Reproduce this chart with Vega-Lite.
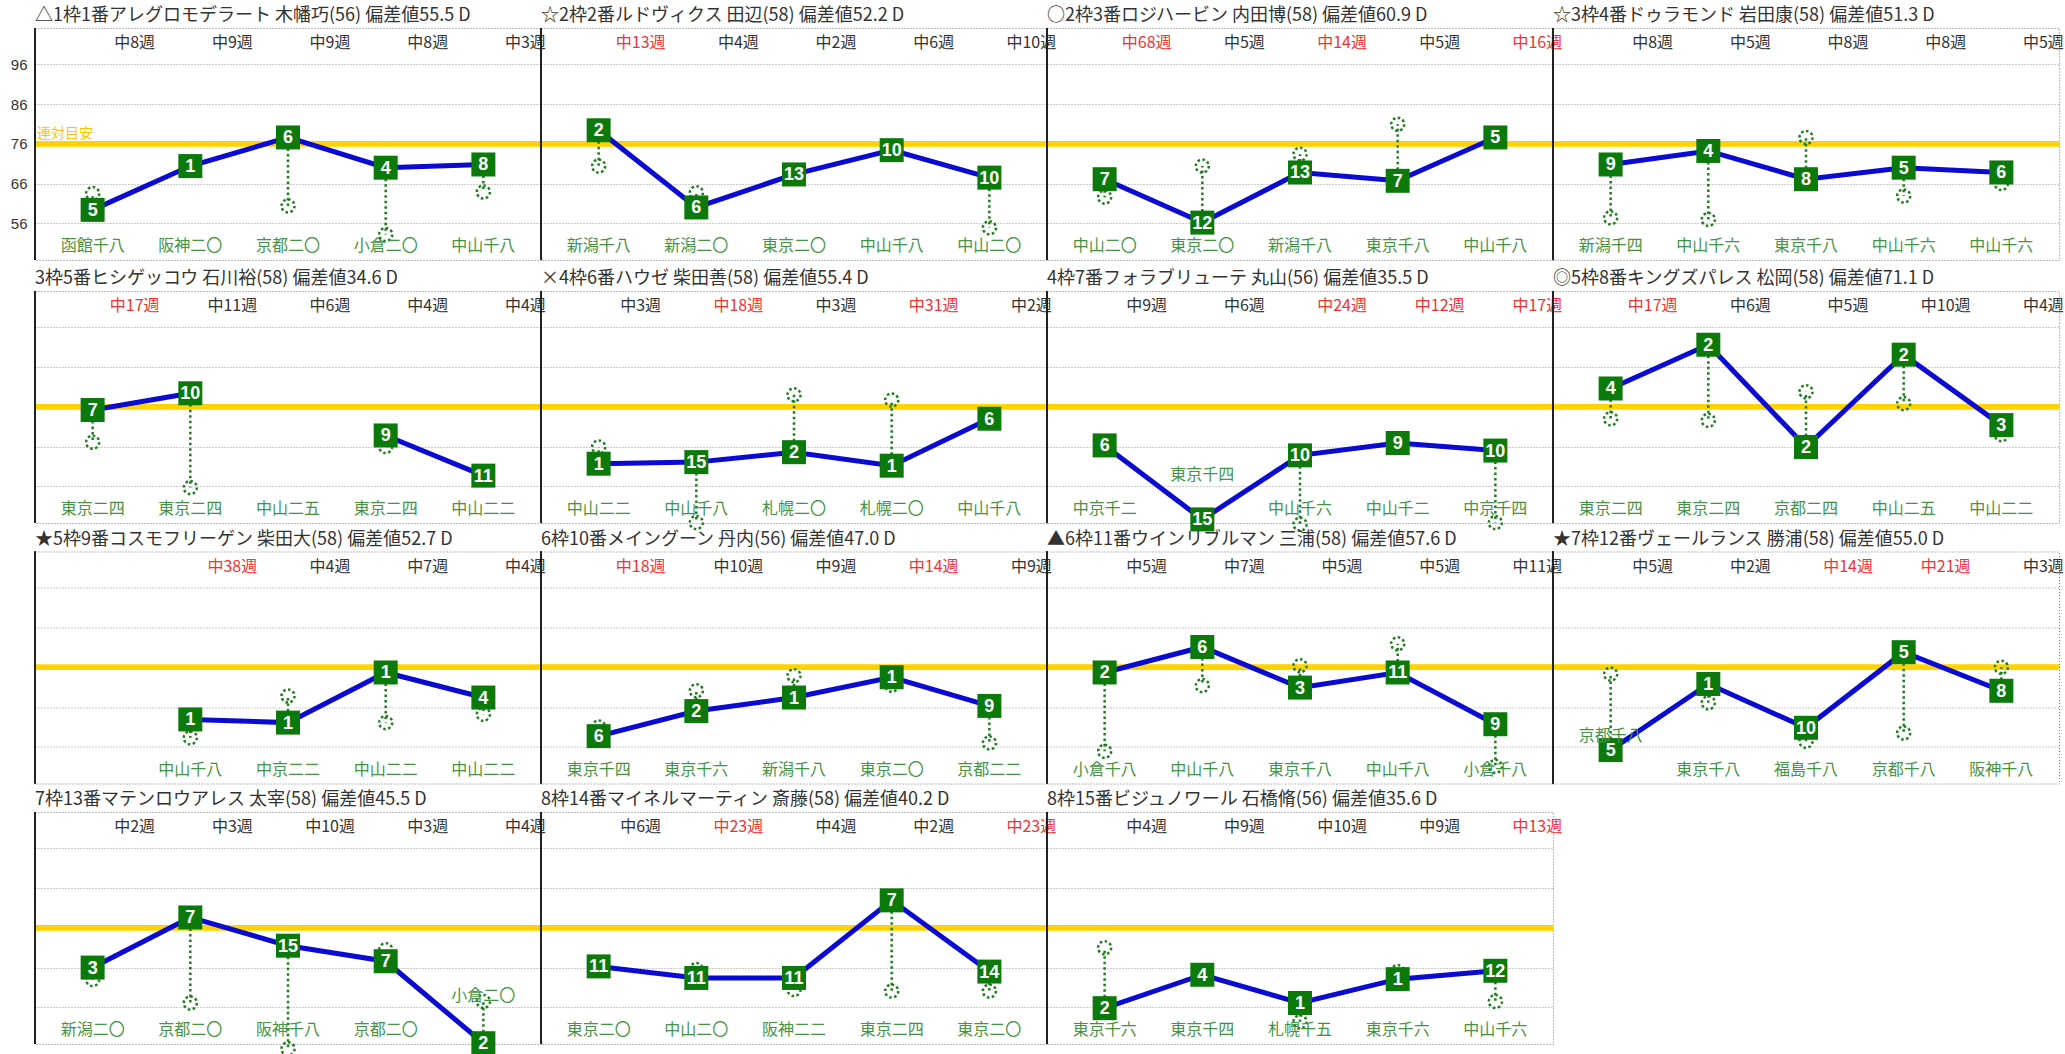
{
  "$schema": "https://vega.github.io/schema/vega-lite/v6.json",
  "background": "white",
  "padding": {"top": 6, "left": 0, "right": 0, "bottom": 0},
  "config": {
    "font": "Noto Sans CJK JP",
    "view": {"stroke": "#777777", "strokeDash": [1, 2], "strokeWidth": 1},
    "header": {"labelFontSize": 18, "labelAnchor": "start", "labelColor": "#333333", "labelPadding": 2, "labelFont": "Noto Sans CJK JP", "labelLimit": 0}
  },
  "datasets": {
    "titles": [
      {"p": 1, "t": "△1枠1番アレグロモデラート 木幡巧(56) 偏差値55.5 D"},
      {"p": 2, "t": "☆2枠2番ルドヴィクス 田辺(58) 偏差値52.2 D"},
      {"p": 3, "t": "○2枠3番ロジハービン 内田博(58) 偏差値60.9 D"},
      {"p": 4, "t": "☆3枠4番ドゥラモンド 岩田康(58) 偏差値51.3 D"},
      {"p": 5, "t": "3枠5番ヒシゲッコウ 石川裕(58) 偏差値34.6 D"},
      {"p": 6, "t": "×4枠6番ハウゼ 柴田善(58) 偏差値55.4 D"},
      {"p": 7, "t": "4枠7番フォラブリューテ 丸山(56) 偏差値35.5 D"},
      {"p": 8, "t": "◎5枠8番キングズパレス 松岡(58) 偏差値71.1 D"},
      {"p": 9, "t": "★5枠9番コスモフリーゲン 柴田大(58) 偏差値52.7 D"},
      {"p": 10, "t": "6枠10番メイングーン 丹内(56) 偏差値47.0 D"},
      {"p": 11, "t": "▲6枠11番ウインリブルマン 三浦(58) 偏差値57.6 D"},
      {"p": 12, "t": "★7枠12番ヴェールランス 勝浦(58) 偏差値55.0 D"},
      {"p": 13, "t": "7枠13番マテンロウアレス 太宰(58) 偏差値45.5 D"},
      {"p": 14, "t": "8枠14番マイネルマーティン 斎藤(58) 偏差値40.2 D"},
      {"p": 15, "t": "8枠15番ビジュノワール 石橋脩(56) 偏差値35.6 D"}
    ],
    "races": [
      {"p": 1, "r": 1, "venue": "函館千八", "n": 5, "v": 59.4, "c": 63.5, "wk": "中8週"},
      {"p": 1, "r": 2, "venue": "阪神二〇", "n": 1, "v": 70.4, "c": 70.4, "wk": "中9週"},
      {"p": 1, "r": 3, "venue": "京都二〇", "n": 6, "v": 77.6, "c": 60.4, "wk": "中9週"},
      {"p": 1, "r": 4, "venue": "小倉二〇", "n": 4, "v": 70.0, "c": 53.2, "wk": "中8週"},
      {"p": 1, "r": 5, "venue": "中山千八", "n": 8, "v": 70.8, "c": 63.9, "wk": "中3週"},
      {"p": 2, "r": 1, "venue": "新潟千八", "n": 2, "v": 79.4, "c": 70.4, "wk": "中13週"},
      {"p": 2, "r": 2, "venue": "新潟二〇", "n": 6, "v": 60.0, "c": 63.7, "wk": "中4週"},
      {"p": 2, "r": 3, "venue": "東京二〇", "n": 13, "v": 68.3, "c": 68.3, "wk": "中2週"},
      {"p": 2, "r": 4, "venue": "中山千八", "n": 10, "v": 74.4, "c": 74.4, "wk": "中6週"},
      {"p": 2, "r": 5, "venue": "中山二〇", "n": 10, "v": 67.5, "c": 54.9, "wk": "中10週"},
      {"p": 3, "r": 1, "venue": "中山二〇", "n": 7, "v": 67.1, "c": 62.6, "wk": "中68週"},
      {"p": 3, "r": 2, "venue": "東京二〇", "n": 12, "v": 56.2, "c": 70.4, "wk": "中5週"},
      {"p": 3, "r": 3, "venue": "新潟千八", "n": 13, "v": 68.8, "c": 73.4, "wk": "中14週"},
      {"p": 3, "r": 4, "venue": "東京千八", "n": 7, "v": 66.7, "c": 80.9, "wk": "中5週"},
      {"p": 3, "r": 5, "venue": "中山千八", "n": 5, "v": 77.6, "c": 77.6, "wk": "中16週"},
      {"p": 4, "r": 1, "venue": "新潟千四", "n": 9, "v": 70.8, "c": 57.4, "wk": "中8週"},
      {"p": 4, "r": 2, "venue": "中山千六", "n": 4, "v": 74.2, "c": 57.0, "wk": "中5週"},
      {"p": 4, "r": 3, "venue": "東京千八", "n": 8, "v": 67.1, "c": 77.6, "wk": "中8週"},
      {"p": 4, "r": 4, "venue": "中山千六", "n": 5, "v": 70.0, "c": 62.9, "wk": "中8週"},
      {"p": 4, "r": 5, "venue": "中山千六", "n": 6, "v": 68.8, "c": 66.0, "wk": "中5週"},
      {"p": 5, "r": 1, "venue": "東京二四", "n": 7, "v": 75.2, "c": 67.1, "wk": "中17週"},
      {"p": 5, "r": 2, "venue": "東京二四", "n": 10, "v": 79.4, "c": 55.7, "wk": "中11週"},
      {"p": 5, "r": 3, "venue": "中山二五", "n": null, "v": null, "c": null, "wk": "中6週"},
      {"p": 5, "r": 4, "venue": "東京二四", "n": 9, "v": 68.8, "c": 66.0, "wk": "中4週"},
      {"p": 5, "r": 5, "venue": "中山二二", "n": 11, "v": 58.7, "c": 58.7, "wk": "中4週"},
      {"p": 6, "r": 1, "venue": "中山二二", "n": 1, "v": 61.7, "c": 65.9, "wk": "中3週"},
      {"p": 6, "r": 2, "venue": "中山千八", "n": 15, "v": 62.1, "c": 46.9, "wk": "中18週"},
      {"p": 6, "r": 3, "venue": "札幌二〇", "n": 2, "v": 64.6, "c": 79.0, "wk": "中3週"},
      {"p": 6, "r": 4, "venue": "札幌二〇", "n": 1, "v": 61.2, "c": 77.7, "wk": "中31週"},
      {"p": 6, "r": 5, "venue": "中山千八", "n": 6, "v": 73.0, "c": 73.0, "wk": "中2週"},
      {"p": 7, "r": 1, "venue": "中京千二", "n": 6, "v": 66.3, "c": 66.3, "wk": "中9週"},
      {"p": 7, "r": 2, "venue": "東京千四", "n": 15, "v": 47.7, "c": 47.7, "wk": "中6週"},
      {"p": 7, "r": 3, "venue": "中山千六", "n": 10, "v": 63.8, "c": 46.5, "wk": "中24週"},
      {"p": 7, "r": 4, "venue": "中山千二", "n": 9, "v": 66.9, "c": 66.9, "wk": "中12週"},
      {"p": 7, "r": 5, "venue": "中京千四", "n": 10, "v": 65.0, "c": 46.9, "wk": "中17週"},
      {"p": 8, "r": 1, "venue": "東京二四", "n": 4, "v": 80.6, "c": 73.0, "wk": "中17週"},
      {"p": 8, "r": 2, "venue": "東京二四", "n": 2, "v": 91.6, "c": 72.6, "wk": "中6週"},
      {"p": 8, "r": 3, "venue": "京都二四", "n": 2, "v": 65.9, "c": 79.8, "wk": "中5週"},
      {"p": 8, "r": 4, "venue": "中山二五", "n": 2, "v": 89.1, "c": 76.8, "wk": "中10週"},
      {"p": 8, "r": 5, "venue": "中山二二", "n": 3, "v": 71.4, "c": 69.0, "wk": "中4週"},
      {"p": 9, "r": 2, "venue": "中山千八", "n": 1, "v": 62.9, "c": 58.3, "wk": "中38週"},
      {"p": 9, "r": 3, "venue": "中京二二", "n": 1, "v": 62.1, "c": 68.8, "wk": "中4週"},
      {"p": 9, "r": 4, "venue": "中山二二", "n": 1, "v": 74.7, "c": 62.1, "wk": "中7週"},
      {"p": 9, "r": 5, "venue": "中山二二", "n": 4, "v": 68.4, "c": 64.2, "wk": "中4週"},
      {"p": 10, "r": 1, "venue": "東京千四", "n": 6, "v": 58.7, "c": 61.0, "wk": "中18週"},
      {"p": 10, "r": 2, "venue": "東京千六", "n": 2, "v": 65.0, "c": 70.1, "wk": "中10週"},
      {"p": 10, "r": 3, "venue": "新潟千八", "n": 1, "v": 68.4, "c": 73.9, "wk": "中9週"},
      {"p": 10, "r": 4, "venue": "東京二〇", "n": 1, "v": 73.5, "c": 71.5, "wk": "中14週"},
      {"p": 10, "r": 5, "venue": "京都二二", "n": 9, "v": 66.3, "c": 57.0, "wk": "中9週"},
      {"p": 11, "r": 1, "venue": "小倉千八", "n": 2, "v": 74.7, "c": 54.9, "wk": "中5週"},
      {"p": 11, "r": 2, "venue": "中山千八", "n": 6, "v": 81.1, "c": 71.4, "wk": "中7週"},
      {"p": 11, "r": 3, "venue": "東京千八", "n": 3, "v": 70.9, "c": 76.4, "wk": "中5週"},
      {"p": 11, "r": 4, "venue": "中山千八", "n": 11, "v": 74.7, "c": 81.9, "wk": "中5週"},
      {"p": 11, "r": 5, "venue": "小倉千八", "n": 9, "v": 61.7, "c": 51.1, "wk": "中11週"},
      {"p": 12, "r": 1, "venue": "京都千八", "n": 5, "v": 55.2, "c": 74.3, "wk": "中5週"},
      {"p": 12, "r": 2, "venue": "東京千八", "n": 1, "v": 71.8, "c": 67.1, "wk": "中2週"},
      {"p": 12, "r": 3, "venue": "福島千八", "n": 10, "v": 60.8, "c": 57.4, "wk": "中14週"},
      {"p": 12, "r": 4, "venue": "京都千八", "n": 5, "v": 79.8, "c": 59.5, "wk": "中21週"},
      {"p": 12, "r": 5, "venue": "阪神千八", "n": 8, "v": 70.1, "c": 76.0, "wk": "中3週"},
      {"p": 13, "r": 1, "venue": "新潟二〇", "n": 3, "v": 66.0, "c": 63.0, "wk": "中2週"},
      {"p": 13, "r": 2, "venue": "京都二〇", "n": 7, "v": 78.6, "c": 57.1, "wk": "中3週"},
      {"p": 13, "r": 3, "venue": "阪神千八", "n": 15, "v": 71.5, "c": 45.6, "wk": "中10週"},
      {"p": 13, "r": 4, "venue": "京都二〇", "n": 7, "v": 67.6, "c": 70.5, "wk": "中3週"},
      {"p": 13, "r": 5, "venue": "小倉二〇", "n": 2, "v": 47.0, "c": 57.5, "wk": "中4週"},
      {"p": 14, "r": 1, "venue": "東京二〇", "n": 11, "v": 66.3, "c": 66.3, "wk": "中6週"},
      {"p": 14, "r": 2, "venue": "中山二〇", "n": 11, "v": 63.4, "c": 65.5, "wk": "中23週"},
      {"p": 14, "r": 3, "venue": "阪神二二", "n": 11, "v": 63.4, "c": 60.5, "wk": "中4週"},
      {"p": 14, "r": 4, "venue": "東京二四", "n": 7, "v": 82.9, "c": 60.1, "wk": "中2週"},
      {"p": 14, "r": 5, "venue": "東京二〇", "n": 14, "v": 65.0, "c": 60.1, "wk": "中23週"},
      {"p": 15, "r": 1, "venue": "東京千六", "n": 2, "v": 55.8, "c": 71.0, "wk": "中4週"},
      {"p": 15, "r": 2, "venue": "東京千四", "n": 4, "v": 64.2, "c": 64.2, "wk": "中9週"},
      {"p": 15, "r": 3, "venue": "札幌千五", "n": 1, "v": 57.1, "c": 52.4, "wk": "中10週"},
      {"p": 15, "r": 4, "venue": "東京千六", "n": 1, "v": 63.1, "c": 65.0, "wk": "中9週"},
      {"p": 15, "r": 5, "venue": "中山千六", "n": 12, "v": 65.2, "c": 57.5, "wk": "中13週"}
    ]
  },
  "spacing": 7,
  "vconcat": [
    {
      "data": {"name": "races"},
      "transform": [
        {"filter": "datum.p <= 4"},
        {"lookup": "p", "from": {"data": {"name": "titles"}, "key": "p", "fields": ["t"]}}
      ],
      "facet": {"field": "t", "type": "nominal", "sort": {"field": "p", "op": "min"}, "header": {"title": null}},
      "columns": 4,
      "bounds": "flush",
      "spacing": {"row": 28.5, "column": 0},
      "spec": {
        "width": 506,
        "height": 232,
        "layer": [
          {"mark": {"type": "rule", "color": "#FFD300", "strokeWidth": 5},
           "encoding": {"y": {"datum": 76, "type": "quantitative", "scale": {"domain": [46.8, 105.1], "nice": false, "zero": false},
             "axis": {"values": [56, 66, 76, 86, 96], "grid": true, "gridDash": [1, 2], "gridColor": "#999999", "domain": false, "ticks": false, "labelFontSize": 15, "labelColor": "#333333", "labelPadding": 8, "minExtent": 35, "maxExtent": 35, "title": null, "labelFont": "Liberation Sans"}}}},
          {"mark": {"type": "rule", "color": "#222222", "strokeWidth": 1.5},
           "encoding": {"x": {"datum": 0.41, "type": "quantitative", "scale": {"domain": [0.41, 5.59], "nice": false, "zero": false}, "axis": null}}},
          {"transform": [{"filter": "datum.p == 1 && datum.r == 1"}],
           "mark": {"type": "text", "align": "left", "baseline": "bottom", "dx": 2, "dy": -3, "color": "#FFC400", "fontSize": 14},
           "encoding": {"x": {"datum": 0.41, "type": "quantitative"}, "y": {"datum": 76, "type": "quantitative"}, "text": {"value": "連対目安"}}},
          {"mark": {"type": "rule", "color": "#1d7d1d", "strokeWidth": 2.5, "strokeDash": [2.5, 3]},
           "encoding": {"x": {"field": "r", "type": "quantitative"}, "y": {"field": "v", "type": "quantitative"}, "y2": {"field": "c"}}},
          {"mark": {"type": "point", "shape": "circle", "filled": false, "stroke": "#1d7d1d", "strokeWidth": 2.5, "strokeDash": [2.5, 2.5], "size": 170, "opacity": 1},
           "encoding": {"x": {"field": "r", "type": "quantitative"}, "y": {"field": "c", "type": "quantitative"}}},
          {"mark": {"type": "line", "color": "#0a0ad2", "strokeWidth": 5, "invalid": "break-paths-filter-domains"},
           "encoding": {"x": {"field": "r", "type": "quantitative"}, "y": {"field": "v", "type": "quantitative"}}},
          {"mark": {"type": "point", "shape": "square", "filled": true, "color": "#0b7a0b", "size": 576, "opacity": 1},
           "encoding": {"x": {"field": "r", "type": "quantitative"}, "y": {"field": "v", "type": "quantitative"}}},
          {"mark": {"type": "text", "color": "white", "fontWeight": "bold", "fontSize": 18, "font": "Liberation Sans Narrow, Liberation Sans", "baseline": "middle", "dy": 1},
           "encoding": {"x": {"field": "r", "type": "quantitative"}, "y": {"field": "v", "type": "quantitative"}, "text": {"field": "n"}}},
          {"mark": {"type": "text", "dx": 42, "fontSize": 16, "baseline": "middle"},
           "encoding": {"x": {"field": "r", "type": "quantitative"}, "y": {"datum": 101.3, "type": "quantitative"}, "text": {"field": "wk"},
             "color": {"condition": {"test": "toNumber(slice(datum.wk, 1, -1)) >= 12", "value": "#EE3333"}, "value": "#333333"}}},
          {"transform": [{"filter": "datum.v == null || datum.v >= 55.5"}],
           "mark": {"type": "text", "fontSize": 16, "baseline": "middle", "color": "#459445"},
           "encoding": {"x": {"field": "r", "type": "quantitative"}, "y": {"datum": 50.3, "type": "quantitative"}, "text": {"field": "venue"}}},
          {"transform": [{"filter": "datum.v != null && datum.v < 55.5"}],
           "mark": {"type": "text", "fontSize": 16, "baseline": "middle", "color": "#459445"},
           "encoding": {"x": {"field": "r", "type": "quantitative"}, "y": {"datum": 58.8, "type": "quantitative"}, "text": {"field": "venue"}}}
        ]
      }
    },
    {
      "data": {"name": "races"},
      "transform": [
        {"filter": "datum.p > 4"},
        {"lookup": "p", "from": {"data": {"name": "titles"}, "key": "p", "fields": ["t"]}}
      ],
      "facet": {"field": "t", "type": "nominal", "sort": {"field": "p", "op": "min"}, "header": {"title": null}},
      "columns": 4,
      "bounds": "flush",
      "spacing": {"row": 28.5, "column": 0},
      "spec": {
        "width": 506,
        "height": 232,
        "layer": [
          {"mark": {"type": "rule", "color": "#FFD300", "strokeWidth": 5},
           "encoding": {"y": {"datum": 76, "type": "quantitative", "scale": {"domain": [46.8, 105.1], "nice": false, "zero": false},
             "axis": {"values": [56, 66, 76, 86, 96], "grid": true, "gridDash": [1, 2], "gridColor": "#999999", "domain": false, "ticks": false, "labelFontSize": 15, "labelColor": "#333333", "labelOpacity": 0, "labelPadding": 8, "minExtent": 35, "maxExtent": 35, "title": null, "labelFont": "Liberation Sans"}}}},
          {"mark": {"type": "rule", "color": "#222222", "strokeWidth": 1.5},
           "encoding": {"x": {"datum": 0.41, "type": "quantitative", "scale": {"domain": [0.41, 5.59], "nice": false, "zero": false}, "axis": null}}},
          {"mark": {"type": "rule", "color": "#1d7d1d", "strokeWidth": 2.5, "strokeDash": [2.5, 3]},
           "encoding": {"x": {"field": "r", "type": "quantitative"}, "y": {"field": "v", "type": "quantitative"}, "y2": {"field": "c"}}},
          {"mark": {"type": "point", "shape": "circle", "filled": false, "stroke": "#1d7d1d", "strokeWidth": 2.5, "strokeDash": [2.5, 2.5], "size": 170, "opacity": 1},
           "encoding": {"x": {"field": "r", "type": "quantitative"}, "y": {"field": "c", "type": "quantitative"}}},
          {"mark": {"type": "line", "color": "#0a0ad2", "strokeWidth": 5, "invalid": "break-paths-filter-domains"},
           "encoding": {"x": {"field": "r", "type": "quantitative"}, "y": {"field": "v", "type": "quantitative"}}},
          {"mark": {"type": "point", "shape": "square", "filled": true, "color": "#0b7a0b", "size": 576, "opacity": 1},
           "encoding": {"x": {"field": "r", "type": "quantitative"}, "y": {"field": "v", "type": "quantitative"}}},
          {"mark": {"type": "text", "color": "white", "fontWeight": "bold", "fontSize": 18, "font": "Liberation Sans Narrow, Liberation Sans", "baseline": "middle", "dy": 1},
           "encoding": {"x": {"field": "r", "type": "quantitative"}, "y": {"field": "v", "type": "quantitative"}, "text": {"field": "n"}}},
          {"mark": {"type": "text", "dx": 42, "fontSize": 16, "baseline": "middle"},
           "encoding": {"x": {"field": "r", "type": "quantitative"}, "y": {"datum": 101.3, "type": "quantitative"}, "text": {"field": "wk"},
             "color": {"condition": {"test": "toNumber(slice(datum.wk, 1, -1)) >= 12", "value": "#EE3333"}, "value": "#333333"}}},
          {"transform": [{"filter": "datum.v == null || datum.v >= 55.5"}],
           "mark": {"type": "text", "fontSize": 16, "baseline": "middle", "color": "#459445"},
           "encoding": {"x": {"field": "r", "type": "quantitative"}, "y": {"datum": 50.3, "type": "quantitative"}, "text": {"field": "venue"}}},
          {"transform": [{"filter": "datum.v != null && datum.v < 55.5"}],
           "mark": {"type": "text", "fontSize": 16, "baseline": "middle", "color": "#459445"},
           "encoding": {"x": {"field": "r", "type": "quantitative"}, "y": {"datum": 58.8, "type": "quantitative"}, "text": {"field": "venue"}}}
        ]
      }
    }
  ]
}
